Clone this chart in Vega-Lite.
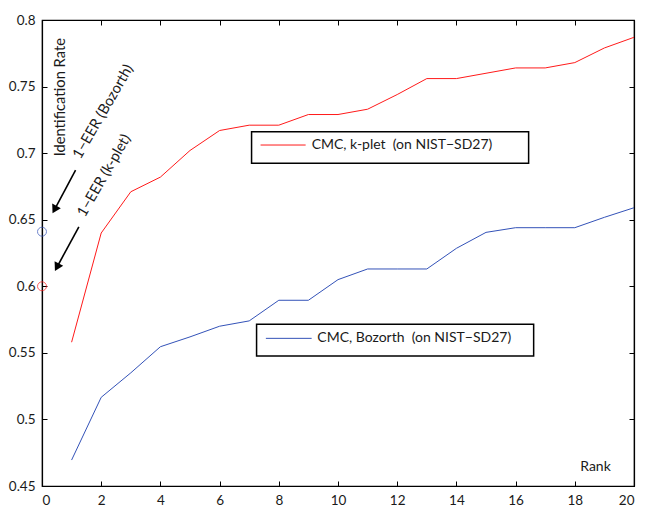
{
  "$schema": "https://vega.github.io/schema/vega-lite/v6.json",
  "width": 592,
  "height": 466,
  "autosize": "none",
  "padding": {"left": 42, "top": 20, "right": 21, "bottom": 22},
  "background": "white",
  "config": {
    "view": {"stroke": "black", "strokeWidth": 1.2},
    "font": "Lato",
    "axis": {
      "domainColor": "black",
      "domainWidth": 1.2,
      "tickColor": "black",
      "tickWidth": 1,
      "tickSize": -5,
      "labelColor": "#1a1a1a",
      "labelFont": "Lato",
      "labelFontSize": 13.5,
      "grid": false,
      "title": null
    }
  },
  "datasets": {
    "cmc": [
      {"rank": 1, "rate": 0.558, "method": "k-plet"},
      {"rank": 2, "rate": 0.640, "method": "k-plet"},
      {"rank": 3, "rate": 0.671, "method": "k-plet"},
      {"rank": 4, "rate": 0.682, "method": "k-plet"},
      {"rank": 5, "rate": 0.702, "method": "k-plet"},
      {"rank": 6, "rate": 0.717, "method": "k-plet"},
      {"rank": 7, "rate": 0.721, "method": "k-plet"},
      {"rank": 8, "rate": 0.721, "method": "k-plet"},
      {"rank": 9, "rate": 0.729, "method": "k-plet"},
      {"rank": 10, "rate": 0.729, "method": "k-plet"},
      {"rank": 11, "rate": 0.733, "method": "k-plet"},
      {"rank": 12, "rate": 0.744, "method": "k-plet"},
      {"rank": 13, "rate": 0.756, "method": "k-plet"},
      {"rank": 14, "rate": 0.756, "method": "k-plet"},
      {"rank": 15, "rate": 0.760, "method": "k-plet"},
      {"rank": 16, "rate": 0.764, "method": "k-plet"},
      {"rank": 17, "rate": 0.764, "method": "k-plet"},
      {"rank": 18, "rate": 0.768, "method": "k-plet"},
      {"rank": 19, "rate": 0.779, "method": "k-plet"},
      {"rank": 20, "rate": 0.787, "method": "k-plet"},
      {"rank": 1, "rate": 0.4695, "method": "Bozorth"},
      {"rank": 2, "rate": 0.5166, "method": "Bozorth"},
      {"rank": 3, "rate": 0.535, "method": "Bozorth"},
      {"rank": 4, "rate": 0.5546, "method": "Bozorth"},
      {"rank": 5, "rate": 0.562, "method": "Bozorth"},
      {"rank": 6, "rate": 0.570, "method": "Bozorth"},
      {"rank": 7, "rate": 0.574, "method": "Bozorth"},
      {"rank": 8, "rate": 0.5895, "method": "Bozorth"},
      {"rank": 9, "rate": 0.5895, "method": "Bozorth"},
      {"rank": 10, "rate": 0.605, "method": "Bozorth"},
      {"rank": 11, "rate": 0.613, "method": "Bozorth"},
      {"rank": 12, "rate": 0.613, "method": "Bozorth"},
      {"rank": 13, "rate": 0.613, "method": "Bozorth"},
      {"rank": 14, "rate": 0.6285, "method": "Bozorth"},
      {"rank": 15, "rate": 0.6405, "method": "Bozorth"},
      {"rank": 16, "rate": 0.644, "method": "Bozorth"},
      {"rank": 17, "rate": 0.644, "method": "Bozorth"},
      {"rank": 18, "rate": 0.644, "method": "Bozorth"},
      {"rank": 19, "rate": 0.6518, "method": "Bozorth"},
      {"rank": 20, "rate": 0.659, "method": "Bozorth"}
    ],
    "eer": [
      {"rank": 0, "rate": 0.641, "method": "Bozorth"},
      {"rank": 0, "rate": 0.600, "method": "k-plet"}
    ],
    "arrows": [
      {"x0": 1.134, "y0": 0.6873, "x1": 0.423, "y1": 0.6576, "label": "Bozorth"},
      {"x0": 1.245, "y0": 0.6447, "x1": 0.504, "y1": 0.6143, "label": "k-plet"}
    ],
    "vlabel": [
      {"x": 0.626, "y": 0.742, "text": "Identification Rate"}
    ],
    "slabels": [
      {"x": 2.08, "y": 0.731, "text": "1−EER (Bozorth)"},
      {"x": 2.11, "y": 0.683, "text": "1−EER (k-plet)"}
    ],
    "legend": [
      {"bx1": 7.08, "bx2": 16.44, "by1": 0.7161, "by2": 0.6924, "lx1": 7.384, "lx2": 8.907, "ly": 0.7061, "tx": 9.11, "method": "k-plet", "text": "CMC, k-plet \u00a0(on NIST−SD27)"},
      {"bx1": 7.249, "bx2": 16.61, "by1": 0.5714, "by2": 0.5476, "lx1": 7.563, "lx2": 9.11, "ly": 0.5609, "tx": 9.30, "method": "Bozorth", "text": "CMC, Bozorth \u00a0(on NIST−SD27)"}
    ],
    "rank": [
      {"x": 18.70, "y": 0.4643, "text": "Rank"}
    ]
  },
  "resolve": {"axis": {"x": "independent", "y": "independent"}},
  "layer": [
    {
      "data": {"name": "cmc"},
      "mark": {"type": "line", "strokeWidth": 1, "clip": true},
      "encoding": {
        "x": {"field": "rank", "type": "quantitative", "scale": {"domain": [0, 20], "nice": false, "zero": false},
              "axis": {"orient": "bottom", "values": [0,2,4,6,8,10,12,14,16,18,20], "labelPadding": 12}},
        "y": {"field": "rate", "type": "quantitative", "scale": {"domain": [0.45, 0.8], "nice": false, "zero": false},
              "axis": {"orient": "left", "values": [0.45,0.5,0.55,0.6,0.65,0.7,0.75,0.8], "format": "~g", "labelPadding": 12}},
        "color": {"field": "method", "type": "nominal", "scale": {"domain": ["k-plet", "Bozorth"], "range": ["#ff1a1a", "#3352b8"]}, "legend": null},
        "detail": {"field": "method"}
      }
    },
    {
      "data": {"name": "eer"},
      "mark": {"type": "point", "shape": "circle", "filled": false, "size": 80, "strokeWidth": 1},
      "encoding": {
        "x": {"field": "rank", "type": "quantitative",
              "axis": {"orient": "top", "values": [0,2,4,6,8,10,12,14,16,18,20], "labels": false}},
        "y": {"field": "rate", "type": "quantitative",
              "axis": {"orient": "right", "values": [0.45,0.5,0.55,0.6,0.65,0.7,0.75,0.8], "labels": false}},
        "color": {"field": "method", "type": "nominal", "legend": null}
      }
    },
    {
      "data": {"name": "arrows"},
      "mark": {"type": "rule", "color": "black", "strokeWidth": 1.6},
      "encoding": {
        "x": {"field": "x0", "type": "quantitative", "axis": null},
        "y": {"field": "y0", "type": "quantitative", "axis": null},
        "x2": {"field": "x1"},
        "y2": {"field": "y1"}
      }
    },
    {
      "data": {"name": "arrows"},
      "mark": {"type": "point", "shape": "triangle-up", "filled": true, "color": "black", "size": 95, "angle": 208, "opacity": 1},
      "encoding": {
        "x": {"field": "x1", "type": "quantitative", "axis": null},
        "y": {"field": "y1", "type": "quantitative", "axis": null}
      }
    },
    {
      "data": {"name": "vlabel"},
      "mark": {"type": "text", "angle": -90, "align": "center", "baseline": "middle", "font": "Lato", "fontSize": 14.7, "color": "#1a1a1a"},
      "encoding": {
        "x": {"field": "x", "type": "quantitative", "axis": null},
        "y": {"field": "y", "type": "quantitative", "axis": null},
        "text": {"field": "text"}
      }
    },
    {
      "data": {"name": "slabels"},
      "mark": {"type": "text", "angle": -60, "align": "center", "baseline": "middle", "font": "Lato", "fontSize": 14.7, "color": "#1a1a1a"},
      "encoding": {
        "x": {"field": "x", "type": "quantitative", "axis": null},
        "y": {"field": "y", "type": "quantitative", "axis": null},
        "text": {"field": "text"}
      }
    },
    {
      "data": {"name": "legend"},
      "mark": {"type": "rect", "fill": "white", "stroke": "black", "strokeWidth": 1.5},
      "encoding": {
        "x": {"field": "bx1", "type": "quantitative", "axis": null},
        "x2": {"field": "bx2"},
        "y": {"field": "by1", "type": "quantitative", "axis": null},
        "y2": {"field": "by2"}
      }
    },
    {
      "data": {"name": "legend"},
      "mark": {"type": "rule", "strokeWidth": 1},
      "encoding": {
        "x": {"field": "lx1", "type": "quantitative", "axis": null},
        "x2": {"field": "lx2"},
        "y": {"field": "ly", "type": "quantitative", "axis": null},
        "color": {"field": "method", "type": "nominal", "legend": null}
      }
    },
    {
      "data": {"name": "legend"},
      "mark": {"type": "text", "align": "left", "baseline": "middle", "font": "Lato", "fontSize": 14, "color": "#1a1a1a"},
      "encoding": {
        "x": {"field": "tx", "type": "quantitative", "axis": null},
        "y": {"field": "ly", "type": "quantitative", "axis": null},
        "text": {"field": "text"}
      }
    },
    {
      "data": {"name": "rank"},
      "mark": {"type": "text", "align": "center", "baseline": "middle", "font": "Lato", "fontSize": 14, "color": "#1a1a1a"},
      "encoding": {
        "x": {"field": "x", "type": "quantitative", "axis": null},
        "y": {"field": "y", "type": "quantitative", "axis": null},
        "text": {"field": "text"}
      }
    }
  ]
}
